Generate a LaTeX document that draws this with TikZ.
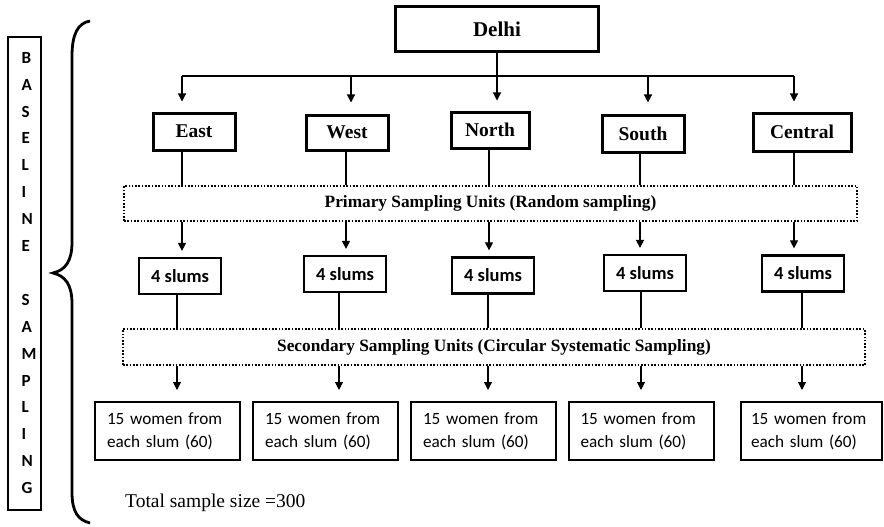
\documentclass[tikz,border=0pt]{standalone}
\usepackage{fontspec}
\setmainfont{Liberation Serif}
\newfontfamily\calibri{Carlito}
\usetikzlibrary{arrows.meta}

\begin{document}
\begin{tikzpicture}[x=1pt,y=-1pt,
  every node/.style={inner sep=0pt},
  delhibox/.style={draw, line width=3pt, minimum width=203pt, minimum height=45pt,
    font=\bfseries\fontsize{21}{24}\selectfont},
  district/.style={draw, line width=3pt, font=\bfseries\fontsize{19.5}{22}\selectfont},
  slumbox/.style={draw, line width=2.2pt, minimum width=82pt, minimum height=36pt,
    font=\calibri\bfseries\fontsize{18.5}{21}\selectfont},
  womenbox/.style={draw, line width=2pt, minimum height=58pt, text width=121pt,
    align=left, inner xsep=12pt, font=\calibri\fontsize{17.2}{23}\selectfont},
  unitbox/.style={draw, line width=1.6pt, dash pattern=on 1.6pt off 1.7pt,
    font=\bfseries\fontsize{17.3}{20}\selectfont},
  conn/.style={line width=1.1pt},
  arr/.style={conn, -{Triangle[length=8pt,width=8pt]}},
]
\useasboundingbox (0,0) rectangle (884,527);

% side label and brace
\node[draw, line width=2.5pt, minimum width=33pt, minimum height=473pt] (side) at (24.5,273.5) {};
\node[anchor=west, align=left, font=\calibri\bfseries\fontsize{17}{26.9}\selectfont] (sidetext) at (21.5,273)
  {B\\A\\S\\E\\L\\I\\N\\E\\[26.9pt]S\\A\\M\\P\\L\\I\\N\\G};
\draw[line width=2.8pt] (90,21) .. controls (78,23) and (72,34) .. (72,56) -- (72,242)
  .. controls (72,262) and (65,270) .. (53,273) .. controls (65,276) and (72,284) .. (72,304)
  -- (72,492) .. controls (72,512) and (78,520) .. (90,523);

% top level
\node[delhibox] (delhi) at (497,29.5) {Delhi};

% districts
\node[district, minimum width=82pt, minimum height=37pt] (east) at (194,131.5) {East};
\node[district, minimum width=82pt, minimum height=35pt] (west) at (347,132.5) {West};
\node[district, minimum width=78pt, minimum height=36pt] (north) at (490,130) {North};
\node[district, minimum width=82pt, minimum height=37pt] (south) at (643,133.5) {South};
\node[district, minimum width=98pt, minimum height=38pt] (central) at (802,132) {Central};

% sampling stages
\node[unitbox, minimum width=733pt, minimum height=35pt] (psu) at (490.5,203.5)
  {Primary Sampling Units (Random sampling)};
\node[unitbox, minimum width=742pt, minimum height=36pt] (ssu) at (494,347)
  {Secondary Sampling Units (Circular Systematic Sampling)};

% slums
\node[slumbox] (s1) at (180,276) {4 slums};
\node[slumbox] (s2) at (345,274) {4 slums};
\node[slumbox] (s3) at (493,275.5) {4 slums};
\node[slumbox] (s4) at (645,273) {4 slums};
\node[slumbox] (s5) at (803,273.5) {4 slums};

% women
\node[womenbox] (w1) at (167.5,431) {15 women from\\each slum (60)};
\node[womenbox] (w2) at (325.5,431) {15 women from\\each slum (60)};
\node[womenbox] (w3) at (483.5,431) {15 women from\\each slum (60)};
\node[womenbox] (w4) at (641,431) {15 women from\\each slum (60)};
\node[womenbox, inner xsep=10pt] (w5) at (811.5,431) {15 women from\\each slum (60)};

\node[anchor=base west, font=\fontsize{19.5}{22}\selectfont] (total) at (125,507) {Total sample size =300};

% column guides
\coordinate (a1) at (182,76);
\coordinate (a2) at (351,76);
\coordinate (a4) at (648,76);
\coordinate (a5) at (794,76);
\coordinate (b1) at (182,0);
\coordinate (b2) at (346,0);
\coordinate (b3) at (489,0);
\coordinate (b4) at (640,0);
\coordinate (b5) at (794,0);
\coordinate (c1) at (177,0);
\coordinate (c2) at (339,0);
\coordinate (c3) at (488,0);
\coordinate (c4) at (641,0);
\coordinate (c5) at (802,0);

% Delhi to districts
\draw[conn] (a1) -- (a5);
\draw[arr, shorten >=10pt] (delhi.south) -- (delhi.south |- north.north);
\draw[arr, shorten >=10pt] (a1) -- (a1 |- east.north);
\draw[arr, shorten >=11pt] (a2) -- (a2 |- west.north);
\draw[arr, shorten >=11pt] (a4) -- (a4 |- south.north);
\draw[arr, shorten >=10pt] (a5) -- (a5 |- central.north);

% districts to PSU to slums
\foreach \d/\s/\c in {east/s1/b1, west/s2/b2, north/s3/b3, south/s4/b4, central/s5/b5}{
  \draw[conn] (\d.south -| \c) -- (psu.north -| \c);
  \draw[arr, shorten >=6pt] (psu.south -| \c) -- (\s.north -| \c);
}

% slums to SSU to women
\foreach \s/\w/\c in {s1/w1/c1, s2/w2/c2, s3/w3/c3, s4/w4/c4, s5/w5/c5}{
  \draw[conn] (\s.south -| \c) -- (ssu.north -| \c);
  \draw[arr, shorten >=11pt] (ssu.south -| \c) -- (\w.north -| \c);
}
\end{tikzpicture}
\end{document}
